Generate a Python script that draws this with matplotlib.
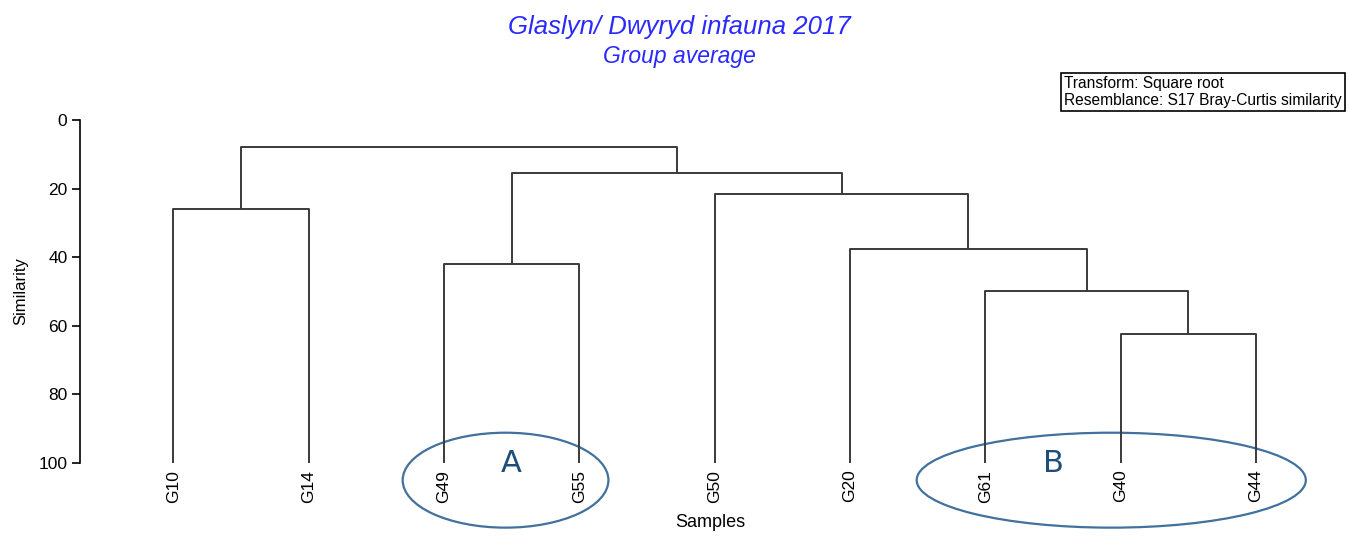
import matplotlib
matplotlib.use('Agg')
import matplotlib.pyplot as plt
from matplotlib.patches import Ellipse

plt.rcParams['font.family'] = ['Liberation Sans', 'DejaVu Sans']

# leaf order along the x axis
samples = ['G10', 'G14', 'G49', 'G55', 'G50', 'G20', 'G61', 'G40', 'G44']

# merges: (left node, right node, similarity); nodes 9.. are created in order
merges = [
    ('G40', 'G44', 62.5),
    ('G10', 'G14', 25.9),
    ('G49', 'G55', 41.9),
    ('G61', 9, 49.9),
    ('G20', 12, 37.6),
    ('G50', 13, 21.5),
    (11, 14, 15.6),
    (10, 15, 7.8),
]

groups = ['A', 'B']
group_members = [['G49', 'G55'], ['G61', 'G40', 'G44']]

W, H = 1349, 536
fig = plt.figure(figsize=(W / 100, H / 100), dpi=100)
ax = fig.add_axes([80 / W, 1 - 462.7 / H, 1260 / W, 342.7 / H])

pos = {s: (i, 100.0) for i, s in enumerate(samples)}
line_kw = dict(color='#3a3a3a', lw=1.4, solid_capstyle='butt')
for k, (a, b, h) in enumerate(merges):
    xa, ya = pos[a]
    xb, yb = pos[b]
    ax.plot([xa, xa, xb, xb], [ya, h, h, yb], **line_kw)
    pos[len(samples) + k] = ((xa + xb) / 2, h)

ax.set_ylim(100, 0)
ax.set_xlim(-0.689, 8.62)
ax.set_yticks([0, 20, 40, 60, 80, 100])
ax.tick_params(axis='y', length=6, width=1.2, pad=3, labelsize=12.5)
ax.set_xticks(range(len(samples)))
ax.set_xticklabels(samples, rotation=90, fontsize=12.5)
ax.tick_params(axis='x', length=0, pad=5)
for side in ['top', 'right', 'bottom']:
    ax.spines[side].set_visible(False)
ax.spines['left'].set_linewidth(1.2)
ax.set_ylabel('Similarity', fontsize=12, labelpad=7)
ax.set_xlabel('Samples', fontsize=13, labelpad=8)

# group ellipses around the leaf labels
for name, members in zip(groups, group_members):
    idx = [samples.index(m) for m in members]
    if len(idx) == 2:
        cx, wd = 2.455, 1.52
    else:
        cx, wd = 6.93, 2.875
    ax.add_patch(Ellipse((cx, 105.1), wd, 27.7,
                         fill=False, edgecolor='#41719C', lw=1.6, clip_on=False))
    ax.text((idx[0] + idx[1]) / 2, 100.3, name, fontsize=22, color='#1F4E79',
            ha='center', va='center', family='DejaVu Sans')

fig.text(679 / W, 1 - 27 / H, 'Glaslyn/ Dwyryd infauna 2017', color='#2a2aff',
         fontsize=18.5, style='italic', ha='center', va='center')
fig.text(679 / W, 1 - 57 / H, 'Group average', color='#2a2aff',
         fontsize=16.5, style='italic', ha='center', va='center')
fig.text(1064 / W, 1 - 92 / H,
         'Transform: Square root\nResemblance: S17 Bray-Curtis similarity',
         fontsize=11.2, ha='left', va='center', linespacing=1.15,
         bbox=dict(boxstyle='square,pad=0.22', fc='white', ec='black', lw=1.2))

fig.savefig('out.png', dpi=100)
